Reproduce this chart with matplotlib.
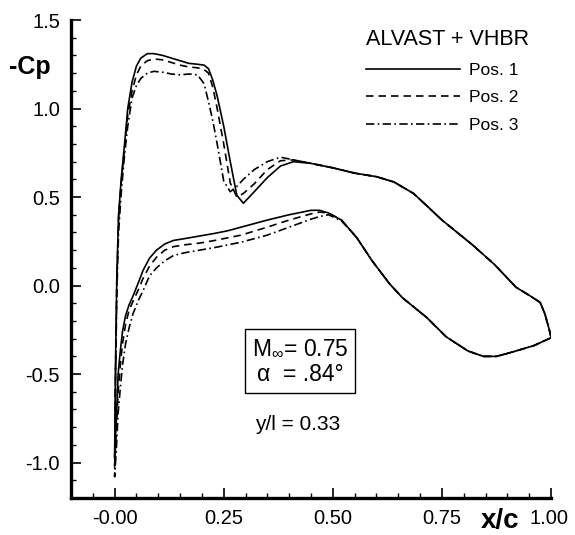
import matplotlib
matplotlib.use("Agg")
import matplotlib.pyplot as plt
from matplotlib.ticker import FixedLocator, MultipleLocator
import matplotlib.transforms as mtransforms
import numpy as np

plt.rcParams['font.family'] = ['Liberation Sans', 'DejaVu Sans']
plt.rcParams['axes.unicode_minus'] = False
plt.rcParams['mathtext.fontset'] = 'custom'
plt.rcParams['mathtext.rm'] = 'Liberation Sans'
plt.rcParams['mathtext.it'] = 'Liberation Sans:italic'

# ---------------- data ----------------
x_up = [0.0, 0.002, 0.005, 0.009, 0.015, 0.022, 0.03, 0.04, 0.05, 0.06,
        0.075, 0.09, 0.11, 0.13, 0.15, 0.17, 0.19, 0.205, 0.215, 0.225,
        0.235, 0.25, 0.265, 0.28, 0.295, 0.32, 0.35, 0.38, 0.41, 0.45,
        0.5, 0.55, 0.6, 0.64, 0.685, 0.72, 0.75, 0.79, 0.82, 0.87,
        0.92, 0.95, 0.975, 0.986, 0.995, 1.0]

cp_up_pos1 = [-0.97, -0.45, 0.05, 0.40, 0.60, 0.78, 1.00, 1.15, 1.24, 1.285,
              1.31, 1.31, 1.30, 1.285, 1.27, 1.255, 1.25, 1.245, 1.225, 1.16,
              1.07, 0.90, 0.70, 0.51, 0.465, 0.53, 0.61, 0.675, 0.70, 0.69,
              0.665, 0.635, 0.615, 0.585, 0.52, 0.44, 0.37, 0.29, 0.23, 0.12,
              -0.01, -0.055, -0.095, -0.16, -0.24, -0.29]

cp_up_pos2 = [-1.02, -0.50, 0.02, 0.38, 0.58, 0.76, 0.96, 1.10, 1.19, 1.24,
              1.27, 1.28, 1.275, 1.26, 1.245, 1.235, 1.23, 1.22, 1.20, 1.12,
              1.00, 0.80, 0.58, 0.50, 0.52, 0.575, 0.655, 0.705, 0.71, 0.69,
              0.665, 0.635, 0.615, 0.585, 0.52, 0.44, 0.37, 0.29, 0.23, 0.12,
              -0.01, -0.055, -0.095, -0.16, -0.24, -0.29]

cp_up_pos3 = [-1.08, -0.55, -0.05, 0.30, 0.52, 0.72, 0.90, 1.06, 1.13, 1.17,
              1.20, 1.21, 1.205, 1.195, 1.19, 1.195, 1.19, 1.14, 1.04, 0.93,
              0.80, 0.59, 0.53, 0.56, 0.60, 0.655, 0.70, 0.725, 0.71, 0.69,
              0.665, 0.635, 0.615, 0.585, 0.52, 0.44, 0.37, 0.29, 0.23, 0.12,
              -0.01, -0.055, -0.095, -0.16, -0.24, -0.29]

x_lo = [0.0, 0.004, 0.008, 0.013, 0.018, 0.025, 0.033, 0.042, 0.055, 0.065,
        0.08, 0.096, 0.115, 0.135, 0.16, 0.195, 0.23, 0.26, 0.29, 0.35,
        0.4, 0.45, 0.47, 0.49, 0.52, 0.555, 0.59, 0.63, 0.66, 0.715,
        0.76, 0.81, 0.845, 0.875, 0.905, 0.96, 1.0]

cp_lo_pos1 = [-0.97, -0.75, -0.50, -0.37, -0.26, -0.17, -0.11, -0.06, 0.02, 0.085,
              0.155, 0.20, 0.235, 0.255, 0.265, 0.28, 0.295, 0.31, 0.33, 0.37,
              0.40, 0.425, 0.425, 0.41, 0.37, 0.27, 0.14, 0.01, -0.07, -0.18,
              -0.29, -0.37, -0.40, -0.40, -0.38, -0.34, -0.295]

cp_lo_pos2 = [-1.02, -0.82, -0.60, -0.45, -0.33, -0.22, -0.14, -0.09, -0.02, 0.04,
              0.11, 0.16, 0.20, 0.22, 0.23, 0.24, 0.255, 0.27, 0.285, 0.33,
              0.37, 0.405, 0.415, 0.41, 0.37, 0.27, 0.14, 0.01, -0.07, -0.18,
              -0.29, -0.37, -0.40, -0.40, -0.38, -0.34, -0.295]

cp_lo_pos3 = [-1.08, -0.92, -0.72, -0.58, -0.45, -0.33, -0.24, -0.16, -0.08, -0.03,
              0.055, 0.10, 0.14, 0.17, 0.185, 0.20, 0.215, 0.23, 0.245, 0.285,
              0.33, 0.375, 0.39, 0.40, 0.365, 0.27, 0.14, 0.01, -0.07, -0.18,
              -0.29, -0.37, -0.40, -0.40, -0.38, -0.34, -0.295]

series_labels = ["Pos. 1", "Pos. 2", "Pos. 3"]
legend_title = "ALVAST + VHBR"
x_ticks = [0.0, 0.25, 0.5, 0.75, 1.0]
x_tick_labels = ["-0.00", "0.25", "0.50", "0.75", "1.00"]
y_ticks = [-1.0, -0.5, 0.0, 0.5, 1.0, 1.5]
y_tick_labels = ["-1.0", "-0.5", "0.0", "0.5", "1.0", "1.5"]

# ---------------- figure ----------------
W, H = 575, 535
fig = plt.figure(figsize=(W / 100, H / 100), dpi=100)
ax = fig.add_axes([71 / W, 37 / H, 480 / W, 478 / H])
ax.set_xlim(-0.1, 1.0)
ax.set_ylim(-1.2, 1.5)

styles = [dict(ls='-'), dict(ls=(0, (4.5, 3))), dict(ls=(0, (5, 2, 1, 2)))]
ups = [cp_up_pos1, cp_up_pos2, cp_up_pos3]
los = [cp_lo_pos1, cp_lo_pos2, cp_lo_pos3]
for up, lo, st, lab in zip(ups, los, styles, series_labels):
    xs = list(reversed(x_up)) + x_lo[1:]
    ys = list(reversed(up)) + lo[1:]
    ax.plot(xs, ys, color='black', lw=1.2, label=lab, **st)

for s in ['top', 'right']:
    ax.spines[s].set_visible(False)
for s in ['left', 'bottom']:
    ax.spines[s].set_linewidth(2.4)

ax.xaxis.set_major_locator(FixedLocator(x_ticks))
ax.set_xticklabels(x_tick_labels)
ax.xaxis.set_minor_locator(MultipleLocator(0.05))
ax.yaxis.set_major_locator(FixedLocator(y_ticks))
ax.set_yticklabels(y_tick_labels)
ax.yaxis.set_minor_locator(MultipleLocator(0.1))
ax.tick_params(which='major', direction='in', length=7, width=1.2,
               labelsize=14.5, pad=8)
ax.tick_params(which='minor', direction='in', length=3.5, width=1.0)

# nudge last x tick label (kept inside the canvas)
lbl = ax.get_xticklabels()[-1]
lbl.set_transform(lbl.get_transform() + mtransforms.ScaledTranslation(-2 / 100, 0, fig.dpi_scale_trans))

fig.text(30 / W, 1 - 67 / H, "-Cp", fontsize=18, fontweight='bold', ha='center', va='center')
fig.text(500 / W, 1 - 521 / H, "x/c", fontsize=20, fontweight='bold', ha='center', va='center')

leg = ax.legend(title=legend_title, loc='upper left',
                bbox_to_anchor=(366 / W, 1 - 29 / H), bbox_transform=fig.transFigure,
                frameon=False, fontsize=12.5, title_fontsize=15.5,
                handlelength=5.4, handletextpad=0.55, labelspacing=0.72,
                borderpad=0, borderaxespad=0)
leg._legend_box.align = "left"

ax.text(300 / W, 1 - 361 / H, "M$_{\\infty}$= 0.75\n\u03b1  = .84\u00b0",
        transform=fig.transFigure, fontsize=16.5, ha='center', va='center',
        multialignment='center', linespacing=1.25,
        bbox=dict(boxstyle='square,pad=0.3', fc='white', ec='black', lw=1.0))
ax.text(298 / W, 1 - 424 / H, "y/l = 0.33", transform=fig.transFigure,
        fontsize=15, ha='center', va='center')

fig.savefig("out.png", dpi=100)
